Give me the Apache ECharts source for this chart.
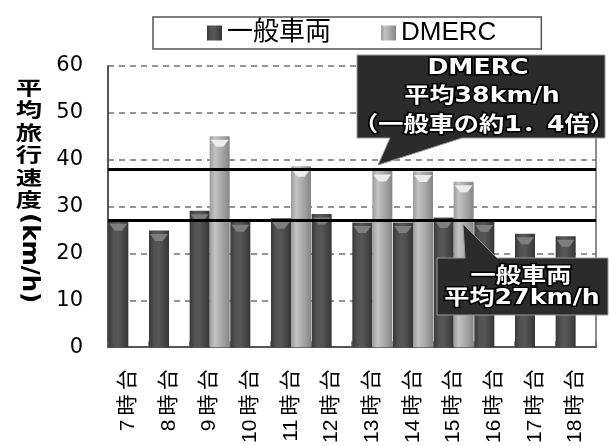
<!DOCTYPE html>
<html>
<head>
<meta charset="utf-8">
<script src="https://cdn.jsdelivr.net/npm/echarts@6/dist/echarts.min.js"></script>
<style>
  html, body { margin: 0; padding: 0; background: #fff; }
  #chart { width: 609px; height: 446px; }
</style>
</head>
<body>
<div id="chart"></div>
<script>
// Hourly average travel speed: regular vehicles vs. DMERC
const categories = ['7時台', '8時台', '9時台', '10時台', '11時台', '12時台',
                    '13時台', '14時台', '15時台', '16時台', '17時台', '18時台'];
const seriesNames = ['一般車両', 'DMERC'];
const generalSpeed = [27.1, 24.9, 29.1, 26.9, 27.5, 28.4, 26.6, 26.6, 27.7, 26.8, 24.2, 23.7];
const dmercSpeed = [null, null, 45.0, null, 38.6, null, 37.6, 37.5, 35.3, null, null, null];
const avgGeneral = 27;
const avgDmerc = 38;
const yTicks = [0, 10, 20, 30, 40, 50, 60];
const yTitleMain = '平均旅行速度';
const yTitleUnit = '(km/h)';
const dmercNote = ['DMERC', '平均38km/h', '（一般車の約1．4倍）'];
const generalNote = ['一般車両', '平均27km/h'];

const chart = echarts.init(document.getElementById('chart'), null, { renderer: 'canvas' });

const latin = '"Liberation Sans", "Noto Sans CJK JP", sans-serif';
const boldFace = '"DejaVu Sans", "Noto Sans CJK JP", sans-serif';

function cylinder(stops) {
  return new echarts.graphic.LinearGradient(0, 0, 1, 0,
    stops.map((c, i) => ({ offset: i / (stops.length - 1), color: c })));
}
const generalFill = cylinder(['#383838', '#525252', '#575757', '#474747', '#353535']);
const dmercFill = cylinder(['#9a9a9a', '#c2c2c2', '#b0b0b0', '#9c9c9c', '#858585']);

const BAR_W = 20;

// lighter bevel on top of every bar
const capPath = 'path://M0,0 L20,0 L14,7 L6,7 Z';

// Callout shapes (box + pointer) and their text lines
function callout(points, lines, fontSize, scaleX) {
  const els = [{
    type: 'polygon',
    z: 100,
    shape: { points: points },
    style: { fill: '#2b2b2b', stroke: '#9a9a9a', lineWidth: 1 }
  }];
  lines.forEach(l => {
    els.push({
      type: 'text',
      z: 101,
      x: l.x, y: l.y,
      scaleX: scaleX,
      style: {
        text: l.text,
        x: 0, y: 0,
        textAlign: 'center',
        textVerticalAlign: 'middle',
        font: 'bold ' + fontSize + 'px ' + boldFace,
        fill: '#ffffff',
        stroke: '#000000',
        lineWidth: 3
      }
    });
  });
  return els;
}

const graphics = []
  .concat(callout(
    [[357, 55], [605, 55], [605, 138], [462, 138], [378, 165], [390, 138], [357, 138]],
    [
      { text: dmercNote[0], x: 478, y: 69 },
      { text: dmercNote[1], x: 482, y: 97 },
      { text: dmercNote[2], x: 484, y: 126 }
    ], 21, 1.2))
  .concat(callout(
    [[437, 258], [465, 258], [463, 224], [497, 258], [608, 258], [608, 315], [437, 315]],
    [
      { text: generalNote[0], x: 521, y: 277 },
      { text: generalNote[1], x: 522, y: 299 }
    ], 21, 1.2))
  .concat([
    {
      type: 'text',
      x: 29, y: 76,
      scaleX: 1.2, scaleY: 0.9,
      style: {
        text: yTitleMain.split('').join('\n'),
        x: 0, y: 0,
        textAlign: 'center',
        textVerticalAlign: 'top',
        font: 'bold 22px "Noto Sans CJK JP", sans-serif',
        lineHeight: 25,
        fill: '#000'
      }
    },
    {
      type: 'text',
      x: 29, y: 213,
      rotation: -Math.PI / 2,
      scaleX: 1.22, scaleY: 1.15,
      style: {
        text: yTitleUnit,
        x: 0, y: 0,
        textAlign: 'left',
        textVerticalAlign: 'middle',
        font: 'bold 20px "DejaVu Sans", sans-serif',
        fill: '#000'
      }
    }
  ]);

const option = {
  backgroundColor: '#ffffff',
  animation: false,
  legend: {
    data: seriesNames,
    left: 153,
    top: 17,
    itemWidth: 15,
    itemHeight: 15,
    itemGap: 50,
    padding: [3, 45, 3, 54],
    borderColor: '#555',
    borderWidth: 1.5,
    icon: 'rect',
    textStyle: { fontSize: 26, fontFamily: latin, color: '#000' }
  },
  grid: { left: 108, right: 13, top: 66, bottom: 97 },
  xAxis: {
    type: 'category',
    data: categories,
    axisLine: { lineStyle: { color: '#555', width: 2 } },
    axisTick: { show: true, inside: true, length: 6, lineStyle: { color: '#666', width: 1.5 } },
    axisLabel: {
      interval: 0,
      rotate: 90,
      margin: 22,
      fontSize: 21,
      fontFamily: latin,
      color: '#000',
      formatter: v => v.replace('時', '\u2009時\u2009')
    }
  },
  yAxis: [
    {
      type: 'value',
      min: yTicks[0],
      max: yTicks[yTicks.length - 1],
      interval: yTicks[1] - yTicks[0],
      axisLine: { show: true, lineStyle: { color: '#555', width: 2 } },
      axisTick: { show: false },
      axisLabel: { margin: 25, fontSize: 21, fontFamily: '"DejaVu Sans", sans-serif', color: '#000' },
      splitLine: { show: true, lineStyle: { color: '#707070', width: 1.5, type: [6, 5] } }
    },
    {
      type: 'value',
      position: 'right',
      min: yTicks[0],
      max: yTicks[yTicks.length - 1],
      interval: yTicks[1] - yTicks[0],
      axisLine: { show: true, lineStyle: { color: '#666', width: 1.5 } },
      axisTick: { show: false },
      axisLabel: { show: false },
      splitLine: { show: false }
    }
  ],
  series: [
    {
      name: seriesNames[0],
      type: 'bar',
      data: generalSpeed,
      barWidth: BAR_W,
      barGap: '0%',
      itemStyle: { color: generalFill },
      z: 2,
      markLine: {
        silent: true,
        symbol: 'none',
        label: { show: false },
        lineStyle: { color: '#000', width: 3, type: 'solid' },
        data: [{ yAxis: avgGeneral }, { yAxis: avgDmerc }],
        z: 10
      }
    },
    {
      name: seriesNames[1],
      type: 'bar',
      data: dmercSpeed,
      barWidth: BAR_W,
      barGap: '0%',
      itemStyle: { color: dmercFill },
      z: 2
    },
    {
      name: 'cap-general',
      type: 'pictorialBar',
      data: generalSpeed,
      barWidth: BAR_W,
      barGap: '0%',
      symbol: capPath,
      symbolSize: [BAR_W - 2, 7],
      symbolPosition: 'end',
      symbolOffset: [0, '50%'],
      itemStyle: { color: '#7e7e7e' },
      silent: true,
      z: 3
    },
    {
      name: 'cap-dmerc',
      type: 'pictorialBar',
      data: dmercSpeed,
      barWidth: BAR_W,
      barGap: '0%',
      symbol: capPath,
      symbolSize: [BAR_W - 2, 7],
      symbolPosition: 'end',
      symbolOffset: [0, '50%'],
      itemStyle: { color: '#ececec' },
      silent: true,
      z: 3
    }
  ],
  graphic: graphics
};

chart.setOption(option);
</script>
</body>
</html>
